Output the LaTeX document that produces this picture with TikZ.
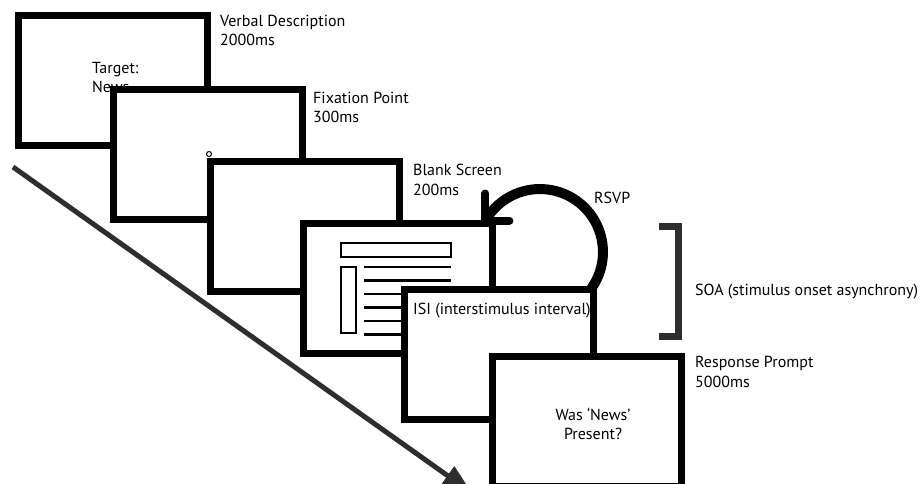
\documentclass[tikz,border=0pt]{standalone}
\usepackage{fontspec}
\setmainfont{PT Sans}
\usetikzlibrary{arrows.meta}

\begin{document}
\begin{tikzpicture}[x=1pt,y=1pt,font=\fontsize{16}{19.5}\selectfont,
 screen/.style={draw,fill=white,line width=7pt,inner sep=0pt,outer sep=0pt,anchor=north west,minimum width=189pt,minimum height=130pt},
 note/.style={anchor=base west,align=left,inner sep=0pt},
 doc/.style={line width=2.5pt}]
\path[use as bounding box,fill=white] (0,0) rectangle (921,-484);
% time runs down the diagonal
\coordinate (t0) at (13,-167);
\coordinate (t1) at (472,-493);
\draw[line width=5pt,draw=black!82,-{Triangle[length=30pt,width=22pt]}] (t0) -- (t1);
% screens, later ones on top
\node[screen] (s1) at (18.5,-15.5) {};
\node[note] (tgt) at (92,-93) {Target:\\News};
\node[note] (l1) at (220,-46) {Verbal Description\\2000ms};
\node[screen] (s2) at (113.5,-89.5) {};
\node[circle,draw,line width=1pt,minimum size=5pt,inner sep=0pt] (fix) at (209,-154) {};
\node[note] (l2) at (313,-123) {Fixation Point\\300ms};
\node[screen] (s3) at (210.5,-161.5) {};
\node[note] (l3) at (413,-195) {Blank Screen\\200ms};
\node[screen] (s4) at (303.5,-223) {};
\draw[doc] (341,-243) rectangle (451,-257);
\draw[doc] (341,-267) rectangle (356,-333);
\foreach \y in {267,280.5,294,307.5,321,334.5}
  \draw[doc] (364,-\y) -- (451,-\y);
% RSVP loop
\draw[line width=10pt] (590.6,-289.5) arc[start angle=-36.5,end angle=150,radius=63] coordinate (tip);
\draw[line width=8pt,line cap=round] (tip) ++(0,27) -- (tip) -- ++(24,0);
\node[note] (rsvp) at (594,-204) {RSVP};
\node[screen] (s5) at (404.5,-289.5) {};
\node[note] (l5) at (413,-314) {ISI (interstimulus interval)};
% SOA bracket
\coordinate (b0) at (659,-226);
\coordinate (b1) at (678.5,-336.5);
\draw[line width=7pt,draw=black!82] (b0) -| (b1) -- (659,-336.5);
\node[note] (soa) at (695,-295) {SOA (stimulus onset asynchrony)};
\node[screen] (s6) at (492.5,-356) {};
\node[align=center,inner sep=0pt] (q) at (593,-424) {Was ‘News’\\Present?};
\node[note] (l6) at (695,-387) {Response Prompt\\5000ms};
\end{tikzpicture}
\end{document}
